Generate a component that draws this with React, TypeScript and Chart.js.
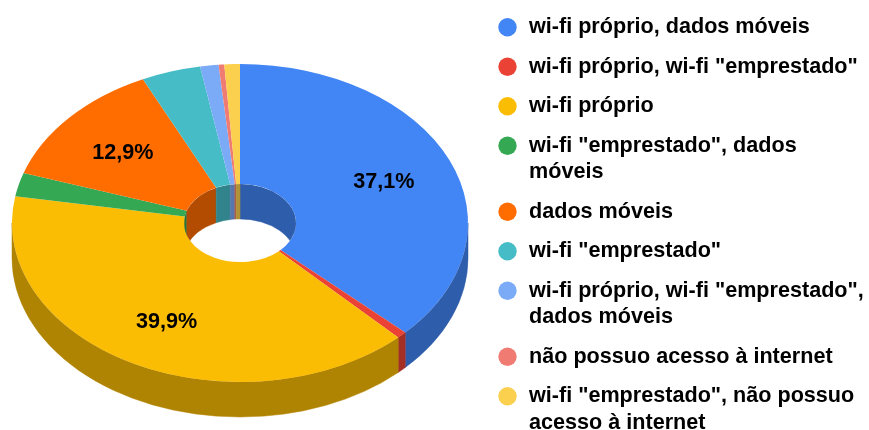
import React, { useEffect, useRef } from "react";
import { Chart, registerables } from "chart.js";

Chart.register(...registerables);

const legendLines: string[][] = [
  ["wi-fi próprio, dados móveis"],
  ['wi-fi próprio, wi-fi "emprestado"'],
  ["wi-fi próprio"],
  ['wi-fi "emprestado", dados', "móveis"],
  ["dados móveis"],
  ['wi-fi "emprestado"'],
  ['wi-fi próprio, wi-fi "emprestado",', "dados móveis"],
  ["não possuo acesso à internet"],
  ['wi-fi "emprestado", não possuo', "acesso à internet"],
];
const shares = [37.1, 0.7, 39.9, 2.4, 12.9, 4.2, 1.3, 0.4, 1.1];
const sliceColors = ["#4285f4", "#ea4335", "#fbbc04", "#34a853", "#ff6d01", "#46bdc6", "#7baaf7", "#f07b72", "#fcd04f"];
const labelledMin = 5;

const CX = 240;
const CY = 223;
const RX = 228;
const RY = 159;
const DEPTH = 35;
const HOLE = 0.2456;
const LABEL_AT = 0.687;
const LABEL_DY = 2.5;
const LEGEND_LEFT = 483.8;
const LEGEND_TOP = 3.5;
const FONT = "'Liberation Sans', Arial, sans-serif";

function darken(hex: string, f = 0.7) {
  const n = parseInt(hex.slice(1), 16);
  return `rgb(${Math.round(((n >> 16) & 255) * f)},${Math.round(((n >> 8) & 255) * f)},${Math.round((n & 255) * f)})`;
}

function band(ctx: CanvasRenderingContext2D, rx: number, ry: number, a: number, b: number, color: string) {
  if (b <= a) return;
  ctx.beginPath();
  ctx.ellipse(CX, CY, rx, ry, 0, a, b);
  ctx.ellipse(CX, CY + DEPTH, rx, ry, 0, b, a, true);
  ctx.closePath();
  ctx.fillStyle = color;
  ctx.strokeStyle = color;
  ctx.lineWidth = 0.5;
  ctx.fill();
  ctx.stroke();
}

const pie3d = {
  id: "pie3d",
  afterLayout(chart: any) {
    const lg = chart.legend;
    const w = lg.width;
    lg.left = LEGEND_LEFT;
    lg.right = LEGEND_LEFT + w;
    lg.top = LEGEND_TOP;
  },
  beforeDatasetsDraw(chart: any) {
    const ctx: CanvasRenderingContext2D = chart.ctx;
    const arcs = chart.getDatasetMeta(0).data;
    ctx.save();
    arcs.forEach((arc: any, i: number) => {
      const a = Math.max(arc.startAngle, 0);
      const b = Math.min(arc.endAngle, Math.PI);
      band(ctx, RX, RY, a, b, darken(sliceColors[i]));
    });
    ctx.restore();
    const first = arcs[0];
    ctx.save();
    ctx.translate(CX, CY);
    ctx.scale(1, RY / RX);
    ctx.translate(-first.x, -first.y);
  },
  afterDatasetsDraw(chart: any) {
    const ctx: CanvasRenderingContext2D = chart.ctx;
    ctx.restore();
    const arcs = chart.getDatasetMeta(0).data;
    const hx = RX * HOLE;
    const hy = RY * HOLE;
    ctx.save();
    ctx.beginPath();
    ctx.ellipse(CX, CY, hx, hy, 0, 0, Math.PI * 2);
    ctx.clip();
    arcs.forEach((arc: any, i: number) => {
      const c = darken(sliceColors[i]);
      band(ctx, hx, hy, Math.max(arc.startAngle, -Math.PI / 2), Math.min(arc.endAngle, 0), c);
      band(ctx, hx, hy, Math.max(arc.startAngle, Math.PI), Math.min(arc.endAngle, Math.PI * 1.5), c);
    });
    ctx.restore();
    ctx.save();
    ctx.font = `bold 21.6px ${FONT}`;
    ctx.fillStyle = "#000";
    ctx.textAlign = "center";
    ctx.textBaseline = "middle";
    arcs.forEach((arc: any, i: number) => {
      if (shares[i] < labelledMin) return;
      const m = (arc.startAngle + arc.endAngle) / 2;
      const text = shares[i].toFixed(1).replace(".", ",") + "%";
      ctx.fillText(text, CX + RX * LABEL_AT * Math.cos(m), CY + LABEL_DY + RY * LABEL_AT * Math.sin(m));
    });
    ctx.restore();
  },
};

export default function App() {
  const ref = useRef<HTMLCanvasElement>(null);
  useEffect(() => {
    const chart = new Chart(ref.current!, {
      type: "doughnut",
      data: {
        labels: legendLines.map((l) => l.join(" ")),
        datasets: [{ data: shares, backgroundColor: sliceColors, borderWidth: 0, clip: false } as any],
      },
      options: {
        responsive: false,
        animation: false,
        radius: RX,
        cutout: `${HOLE * 100}%`,
        layout: { padding: 0 },
        plugins: {
          tooltip: { enabled: false },
          legend: {
            position: "right",
            align: "start",
            labels: {
              usePointStyle: true,
              boxWidth: 21.4,
              boxHeight: 13,
              padding: 13,
              color: "#1a1a1a",
              font: { family: FONT, size: 21.6, weight: "bold", lineHeight: 26.5 / 21.6 },
              generateLabels: () =>
                legendLines.map((text, i) => ({
                  text: text as any,
                  fillStyle: sliceColors[i],
                  strokeStyle: sliceColors[i],
                  lineWidth: 0,
                  pointStyle: "circle",
                  hidden: false,
                  index: i,
                })),
            },
          },
        },
      } as any,
      plugins: [pie3d],
    });
    return () => chart.destroy();
  }, []);
  return (
    <div style={{ position: "absolute", left: 0, top: 0, width: 869, height: 430, overflow: "hidden", background: "#fff" }}>
      <canvas ref={ref} width={869} height={500} style={{ display: "block" }} />
    </div>
  );
}
